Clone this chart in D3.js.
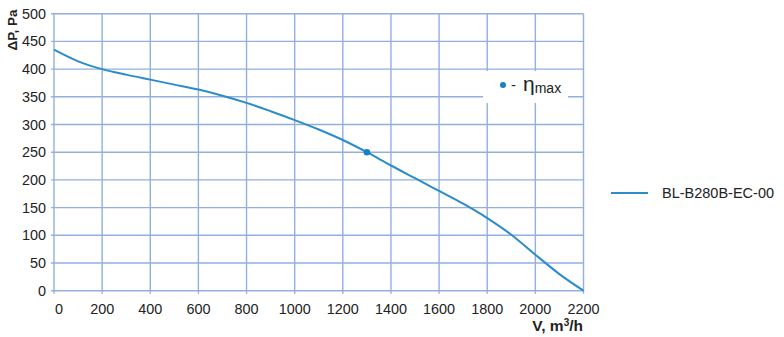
<!DOCTYPE html>
<html><head><meta charset="utf-8">
<script src="https://cdn.jsdelivr.net/npm/d3@7"></script>
<style>body{margin:0;background:#fff}text{font-family:"Liberation Sans",Arial,sans-serif}</style>
</head><body>
<svg id="c" width="784" height="337"></svg>
<script>
const xTicks = [0,200,400,600,800,1000,1200,1400,1600,1800,2000,2200];
const yTicks = [0,50,100,150,200,250,300,350,400,450,500];
const flowV = [0,100,200,300,400,500,600,700,800,900,1000,1100,1200,1300,1400,1500,1600,1700,1800,1900,2000,2100,2200];
const pressure = [435,414,400,390,381,372,363,352,339,324,308,291,272,250,226,203,180,157,131,101,65,30,0];
const etaMax = [{v:1300,p:250}];
const seriesName = "BL-B280B-EC-00";

const svg = d3.select("#c");
const x = d3.scaleLinear().domain([0,2200]).range([54,583.5]);
const y = d3.scaleLinear().domain([0,500]).range([290.7,13.7]);
const grid = "#93afe0";

svg.append("g").selectAll("line").data(xTicks).join("line")
  .attr("x1",d=>x(d)).attr("x2",d=>x(d)).attr("y1",y(500)).attr("y2",y(0)+3)
  .attr("stroke",grid).attr("stroke-width",1.4);
svg.append("g").selectAll("line").data(yTicks).join("line")
  .attr("x1",x(0)-3).attr("x2",x(2200)).attr("y1",d=>y(d)).attr("y2",d=>y(d))
  .attr("stroke",grid).attr("stroke-width",1.4);

svg.append("g").selectAll("text").data(yTicks).join("text")
  .attr("x",46).attr("y",d=>y(d)+5).attr("text-anchor","end")
  .attr("font-size",14.4).attr("fill","#222").text(d=>d);
svg.append("g").selectAll("text").data(xTicks).join("text")
  .attr("x",d=>d===0?x(d)+5:x(d)).attr("y",314).attr("text-anchor","middle")
  .attr("font-size",14.4).attr("fill","#222").text(d=>d);

svg.append("text").attr("transform","translate(17,30) rotate(-90)")
  .attr("text-anchor","middle").attr("font-size",13.5).attr("font-weight","bold").attr("fill","#222").text("ΔP, Pa");
svg.append("text").attr("x",583).attr("y",331).attr("text-anchor","end")
  .attr("font-size",15.5).attr("font-weight","bold").attr("fill","#222")
  .html('V, m<tspan dy="-5" font-size="10">3</tspan><tspan dy="5">/h</tspan>');

const line = d3.line().x((d,i)=>x(flowV[i])).y(d=>y(d)).curve(d3.curveMonotoneX);
svg.append("path").attr("d",line(pressure)).attr("fill","none")
  .attr("stroke","#2b8ccc").attr("stroke-width",2);

svg.selectAll(".pt").data(etaMax).join("circle")
  .attr("cx",d=>x(d.v)).attr("cy",d=>y(d.p)).attr("r",3.3).attr("fill","#1a7fc4");

// eta legend box
svg.append("rect").attr("x",483).attr("y",71).attr("width",85).attr("height",32).attr("fill","#fff");
svg.append("circle").attr("cx",503).attr("cy",85).attr("r",3).attr("fill","#1a7fc4");
svg.append("text").attr("x",511).attr("y",90).attr("font-size",15).attr("fill","#222").text("-");
svg.append("text").attr("x",523).attr("y",91).attr("font-size",21).attr("fill","#222")
  .html('η<tspan font-size="14" dy="2">max</tspan>');

// series legend
svg.append("line").attr("x1",611).attr("x2",648).attr("y1",193).attr("y2",193)
  .attr("stroke","#2b8ccc").attr("stroke-width",2);
svg.append("text").attr("x",662).attr("y",198).attr("font-size",14.5).attr("fill","#222").text(seriesName);
</script>
</body></html>
